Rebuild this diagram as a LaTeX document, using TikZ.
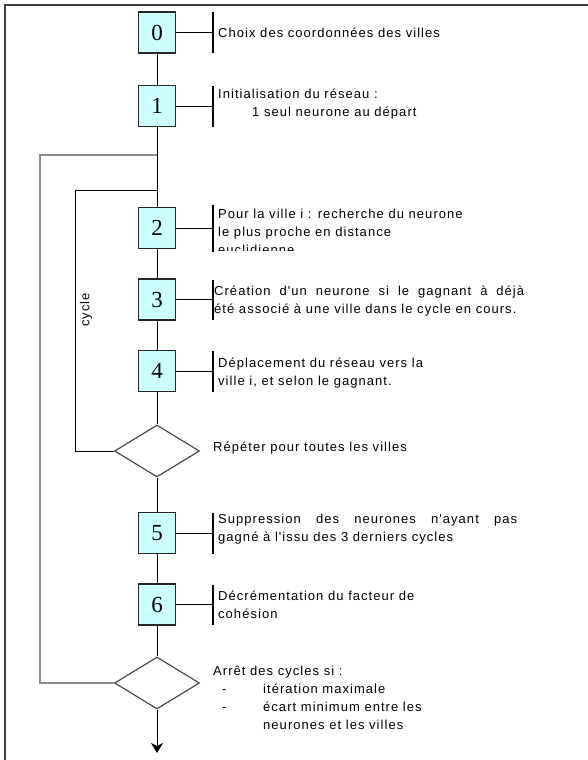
\documentclass[tikz,border=0pt]{standalone}
\usepackage{fontspec}
\usepackage{tikz}
\newfontfamily\notefont{Liberation Sans}[LetterSpace=8.0]
\newfontfamily\digitfont{Liberation Serif}
\definecolor{stepcyan}{HTML}{CCFFFF}
\usetikzlibrary{shapes.geometric, arrows.meta, positioning, calc}

\begin{document}
\begin{tikzpicture}[x=1pt, y=-1pt,
    stepbox/.style={rectangle, draw=black!85, line width=1.4pt, fill=stepcyan,
        minimum width=37, minimum height=41, inner sep=0,
        font=\digitfont\fontsize{23}{23}\selectfont},
    testbox/.style={diamond, draw=black!70, line width=1.2pt, fill=white,
        minimum width=85, minimum height=52, inner sep=0},
    bar/.style={rectangle, fill=black, draw=none, inner sep=0, minimum width=1.4pt},
    note/.style={inner sep=0, align=left, font=\notefont\fontsize{13}{18}\selectfont},
    flow/.style={black, line width=1pt},
    loopback/.style={black!45, line width=1.3pt}]
\useasboundingbox (0,0) rectangle (588,760);
% frame of the page
\draw[black!75, line width=2pt] (5,760) -- (5,5) -- (588,5);
% steps with their label bars
\foreach \n/\y/\h in {0/32.5/41, 1/106/41, 2/228/47, 3/299.5/40, 4/371/41, 5/533/41, 6/604.5/40} {
    \node[stepbox] (s\n) at (157,\y) {\n};
    \node[bar, minimum height=\h] (b\n) at (213,\y) {};
    \draw[flow] (s\n) -- (b\n);
}
% tests
\node[testbox] (dA) at (157,451) {};
\node[testbox] (dB) at (157,683) {};
% joins of the loops and end of the chart
\coordinate (j1) at (157,155);
\coordinate (j2) at (157,190);
\coordinate (fin) at (157,753);
% texts
\node[note, anchor=west] (t0) at (218,32.5) {Choix des coordonnées des villes};
\node[note, anchor=west] (t1) at (218,104) {Initialisation du réseau :\\
    \hspace*{34pt}1 seul neurone au départ};
\begin{scope}
    \clip (200,190) rectangle (588,250.5);
    \node[note, anchor=west] (t2) at (218,231.5) {Pour la ville i : recherche du neurone\\
        le plus proche en distance\\ euclidienne};
\end{scope}
\node[note, anchor=west] (t3) at (214,301) {\makebox[310pt][s]{Création d'un neurone si le gagnant à déjà}\\
    été associé à une ville dans le cycle en cours.};
\node[note, anchor=west] (t4) at (218,373) {Déplacement du réseau vers la\\ ville i, et selon le gagnant.};
\node[note, anchor=west] (tA) at (213,448) {Répéter pour toutes les villes};
\node[note, anchor=west] (t5) at (218,529) {\makebox[299pt][s]{Suppression des neurones n'ayant pas}\\
    gagné à l'issu des 3 derniers cycles};
\node[note, anchor=west] (t6) at (218,604.5) {Décrémentation du facteur de\\ cohésion};
\node[note, anchor=west] (tB) at (213,697.5) {Arrêt des cycles si :\\
    \hspace*{9pt}\makebox[41pt][l]{-}itération maximale\\
    \hspace*{9pt}\makebox[41pt][l]{-}écart minimum entre les\\
    \hspace*{50pt}neurones et les villes};
\node[note, rotate=90] (cyc) at (86,310) {cycle};
% main flow
\draw[flow] (s0) -- (s1) -- (s2) -- (s3) -- (s4) -- (dA) -- (s5) -- (s6) -- (dB);
\draw[flow, -{Stealth[length=10pt, width=12pt, inset=3pt]}] (dB) -- (fin);
% loops back
\draw[flow] (dA.west) -- ++(-38,0) |- (j2);
\draw[loopback] (dB.west) -- ++(-74,0) |- (j1);
\end{tikzpicture}
\end{document}
